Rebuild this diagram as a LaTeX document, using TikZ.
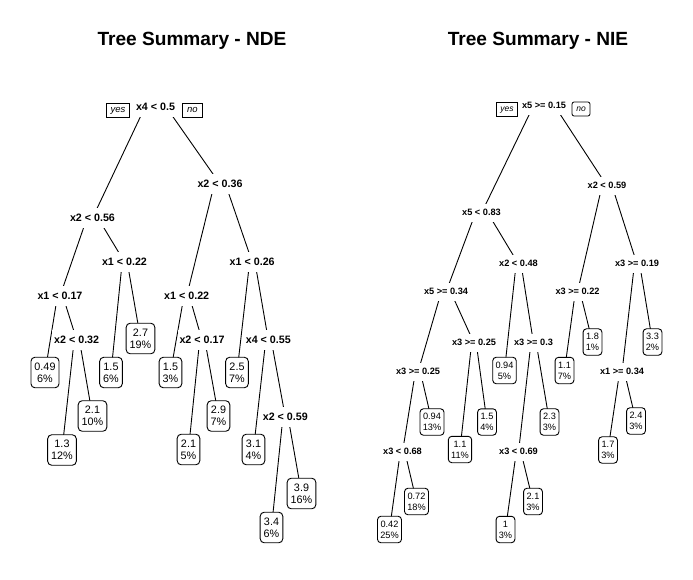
\documentclass[tikz,border=0pt]{standalone}
\usepackage{fontspec}
\setmainfont{Liberation Sans}
\usetikzlibrary{calc}
\pgfdeclarelayer{bg}
\pgfsetlayers{bg,main}
\newcommand{\branch}[2]{\draw[edge] ($(#1.center)!0.17!(#1.center -| #2.center)$) -- (#2.center);}

\begin{document}
\begin{tikzpicture}[x=1pt,y=-1pt,
  title/.style={font=\fontsize{19.1}{22}\selectfont\bfseries},
  edge/.style={line width=0.9pt},
  splitL/.style={fill=white,inner xsep=2pt,inner ysep=4.8pt,text height=8pt,text depth=2pt,
    font=\fontsize{10.7}{12}\selectfont\bfseries},
  splitR/.style={fill=white,inner xsep=2pt,inner ysep=4.8pt,text height=6.8pt,text depth=2pt,
    font=\fontsize{9.2}{11}\selectfont\bfseries},
  leafL/.style={draw,fill=white,line width=0.9pt,rounded corners=4pt,align=center,
    inner xsep=3.5pt,inner ysep=5.3pt,font=\fontsize{10.8}{12.3}\selectfont},
  leafR/.style={draw,fill=white,line width=0.9pt,rounded corners=3.5pt,align=center,
    inner xsep=2.8pt,inner ysep=4.5pt,font=\fontsize{9.2}{11}\selectfont},
  yesno/.style={draw,line width=0.8pt,inner xsep=4.5pt,inner ysep=2.5pt,text height=7pt,text depth=2pt,
    font=\fontsize{9.5}{11}\selectfont\itshape}]
  \useasboundingbox (0,0) rectangle (693,579);
  \node[title] (tnde) at (192,41) {Tree Summary - NDE};
  \node[title] (tnie) at (538,41) {Tree Summary - NIE};

  \node[splitL] (l0) at (155.5,107.5) {x4 < 0.5};
  \node[yesno] (lyes) at (118,110.3) {yes};
  \node[yesno] (lno) at (192.3,110.3) {no};
  \node[splitL] (l1) at (92.5,218) {x2 < 0.56};
  \node[splitL] (l2) at (220,184) {x2 < 0.36};
  \node[splitL] (l3) at (60,296) {x1 < 0.17};
  \node[splitL] (l4) at (124.5,262) {x1 < 0.22};
  \node[splitL] (l5) at (186.7,296) {x1 < 0.22};
  \node[splitL] (l6) at (252.2,262) {x1 < 0.26};
  \node[splitL] (l7) at (76.7,340) {x2 < 0.32};
  \node[splitL] (l8) at (202,340) {x2 < 0.17};
  \node[splitL] (l9) at (268.3,340) {x4 < 0.55};
  \node[splitL] (l10) at (285.3,417) {x2 < 0.59};
  \node[leafL] (la) at (45,372.5) {0.49\\6\%};
  \node[leafL] (lb) at (62,450) {1.3\\12\%};
  \node[leafL] (lc) at (92.5,416) {2.1\\10\%};
  \node[leafL] (ld) at (111,372.5) {1.5\\6\%};
  \node[leafL] (le) at (140.5,338.5) {2.7\\19\%};
  \node[leafL] (lf) at (170.5,372.5) {1.5\\3\%};
  \node[leafL] (lg) at (188.5,449.5) {2.1\\5\%};
  \node[leafL] (lh) at (218.5,416) {2.9\\7\%};
  \node[leafL] (li) at (237,372.5) {2.5\\7\%};
  \node[leafL] (lj) at (253.5,449.5) {3.1\\4\%};
  \node[leafL] (lk) at (271.5,527.5) {3.4\\6\%};
  \node[leafL] (lm) at (301.5,493.5) {3.9\\16\%};

  \node[splitR] (r0) at (544,106) {x5 >= 0.15};
  \node[yesno,font=\fontsize{8.5}{10}\selectfont\itshape,inner xsep=4.2pt] (ryes) at (507,109) {yes};
  \node[yesno,font=\fontsize{8.5}{10}\selectfont\itshape,inner xsep=4.2pt,rounded corners=2pt] (rno) at (581,109) {no};
  \node[splitR] (r1) at (481.5,213) {x5 < 0.83};
  \node[splitR] (r2) at (607,186) {x2 < 0.59};
  \node[splitR] (r3) at (446,292) {x5 >= 0.34};
  \node[splitR] (r4) at (518.5,264) {x2 < 0.48};
  \node[splitR] (r5) at (577.5,292) {x3 >= 0.22};
  \node[splitR] (r6) at (637,264) {x3 >= 0.19};
  \node[splitR] (r7) at (418,372) {x3 >= 0.25};
  \node[splitR] (r8) at (474,343) {x3 >= 0.25};
  \node[splitR] (r9) at (533.5,343) {x3 >= 0.3};
  \node[splitR] (r10) at (622,372) {x1 >= 0.34};
  \node[splitR] (r11) at (402.5,452) {x3 < 0.68};
  \node[splitR] (r12) at (518.5,452) {x3 < 0.69};
  \node[leafR] (ra) at (504.5,370.5) {0.94\\5\%};
  \node[leafR] (rb) at (564.5,370.5) {1.1\\7\%};
  \node[leafR] (rc) at (592.5,342) {1.8\\1\%};
  \node[leafR] (rd) at (652.5,342) {3.3\\2\%};
  \node[leafR] (re) at (432,422) {0.94\\13\%};
  \node[leafR] (rf) at (460,449.5) {1.1\\11\%};
  \node[leafR] (rg) at (487,422) {1.5\\4\%};
  \node[leafR] (rh) at (549.5,422) {2.3\\3\%};
  \node[leafR] (ri) at (608,450) {1.7\\3\%};
  \node[leafR] (rj) at (636,421) {2.4\\3\%};
  \node[leafR] (rk) at (389.5,529.5) {0.42\\25\%};
  \node[leafR] (rm) at (416.5,501.5) {0.72\\18\%};
  \node[leafR] (rn) at (505.5,529.5) {1\\3\%};
  \node[leafR] (rp) at (533,501.5) {2.1\\3\%};

  \begin{pgfonlayer}{bg}
    \foreach \p/\c in {l0/l1,l0/l2,l1/l3,l1/l4,l2/l5,l2/l6,l3/la,l3/l7,l7/lb,l7/lc,
        l4/ld,l4/le,l5/lf,l5/l8,l8/lg,l8/lh,l6/li,l6/l9,l9/lj,l9/l10,l10/lk,l10/lm}
      {\branch{\p}{\c}}
    \foreach \p/\c in {r0/r1,r0/r2,r1/r3,r1/r4,r2/r5,r2/r6,r3/r7,r3/r8,r4/ra,r4/r9,
        r5/rb,r5/rc,r6/r10,r6/rd,r7/r11,r7/re,r8/rf,r8/rg,r9/r12,r9/rh,r10/ri,r10/rj,
        r11/rk,r11/rm,r12/rn,r12/rp}
      {\branch{\p}{\c}}
  \end{pgfonlayer}
\end{tikzpicture}
\end{document}
